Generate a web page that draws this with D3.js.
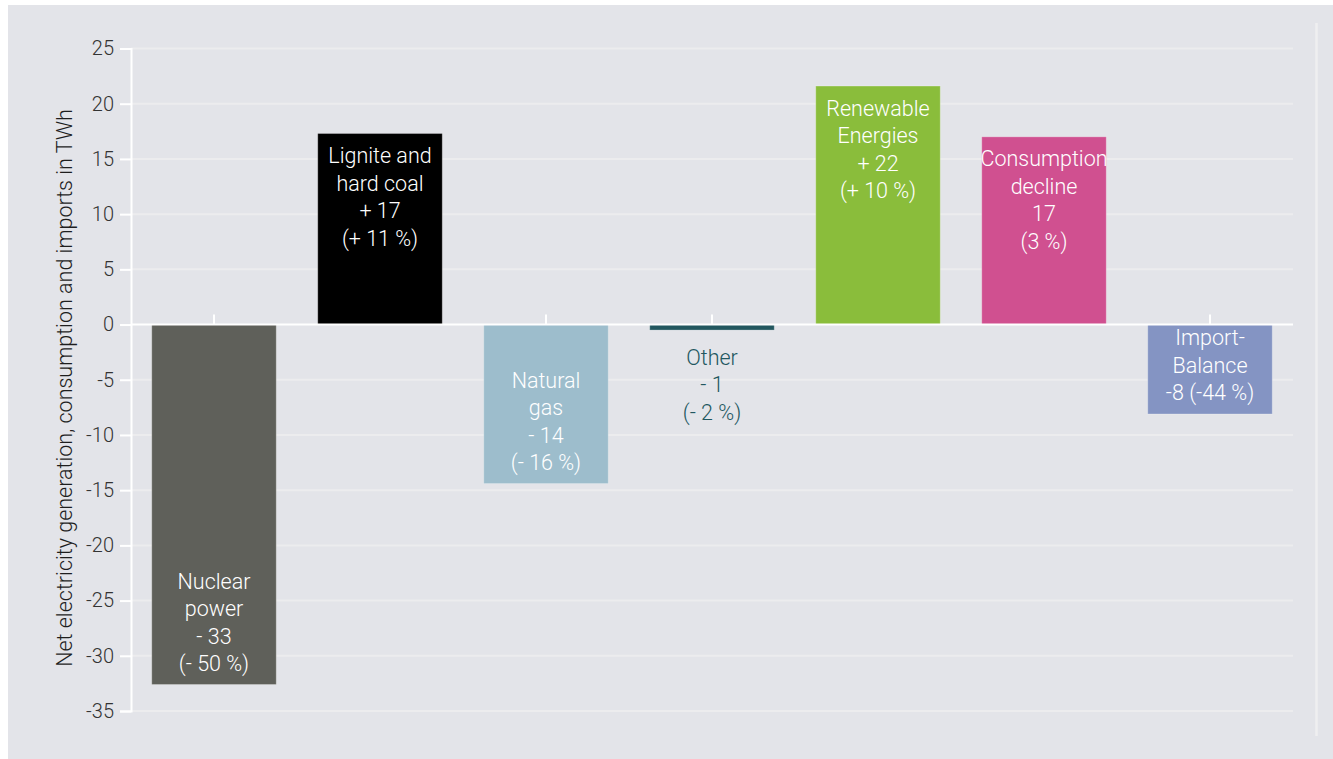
<!DOCTYPE html>
<html>
<head>
<meta charset="utf-8">
<script src="https://cdn.jsdelivr.net/npm/d3@7/dist/d3.min.js"></script>
<style>
  html, body { margin: 0; padding: 0; background: #ffffff; }
  svg { display: block; }
  text { font-family: Roboto, "Noto Sans", "DejaVu Sans", sans-serif; }
</style>
</head>
<body>
<svg id="chart" width="1333" height="759"></svg>
<script>
// Change in net electricity generation, consumption and imports (TWh)
const categories = [
  "Nuclear power", "Lignite and hard coal", "Natural gas", "Other",
  "Renewable Energies", "Consumption decline", "Import-Balance"
];
const values = [-32.6, 17.3, -14.4, -0.5, 21.6, 17.0, -8.1];
const percents = [-50, 11, -16, -2, 10, 3, -44];
const nameLines = [
  ["Nuclear", "power"],
  ["Lignite and", "hard coal"],
  ["Natural", "gas"],
  ["Other"],
  ["Renewable", "Energies"],
  ["Consumption", "decline"],
  ["Import-", "Balance"]
];
// how each bar writes its change: "signed" -> "+ 17", "plain" -> "17", "compact" -> "-8 (-44 %)"
const valueStyles = ["signed", "signed", "signed", "signed", "signed", "plain", "compact"];
const colors = ["#5f605a", "#000000", "#9dbdcc", "#22575f", "#8abd3b", "#d05090", "#8494c3"];
const textColors = ["#ffffff", "#ffffff", "#ffffff", "#22575f", "#ffffff", "#ffffff", "#ffffff"];
const yTicks = [25, 20, 15, 10, 5, 0, -5, -10, -15, -20, -25, -30, -35];
const yTitle = "Net electricity generation, consumption and imports in TWh";

function labelFor(i) {
  const v = values[i], p = percents[i];
  const n = Math.round(Math.abs(v)), pn = Math.abs(p);
  const s = v < 0 ? "-" : "+";
  if (valueStyles[i] === "plain") return [...nameLines[i], `${n}`, `(${pn} %)`];
  if (valueStyles[i] === "compact") return [...nameLines[i], `${s}${n} (${s}${pn} %)`];
  return [...nameLines[i], `${s} ${n}`, `(${s} ${pn} %)`];
}

const svg = d3.select("#chart");
const W = 1333, H = 759;

// panel background
svg.append("rect").attr("x", 8).attr("y", 5).attr("width", W - 8).attr("height", H - 5)
  .attr("fill", "#e3e4e9");

const plotL = 131, plotR = 1293, plotT = 48.5, plotB = 711;

const x = d3.scaleBand().domain(categories).range([plotL, plotR])
  .paddingInner(0.25).paddingOuter(0.125);
const y = d3.scaleLinear().domain([-35, 25]).range([plotB, plotT]);

// horizontal grid
svg.append("g").selectAll("line").data(yTicks.filter(t => t !== 0)).join("line")
  .attr("x1", plotL).attr("x2", plotR)
  .attr("y1", d => y(d)).attr("y2", d => y(d))
  .attr("stroke", "#ececee").attr("stroke-width", 2);

// right frame line
svg.append("line").attr("x1", 1316.5).attr("x2", 1316.5).attr("y1", 23).attr("y2", 736)
  .attr("stroke", "#efeff0").attr("stroke-width", 2.5);

// y axis (plain hyphen for negatives)
const yAxis = d3.axisLeft(y).tickValues(yTicks).tickSize(11).tickPadding(6)
  .tickFormat(d => String(d));
const ga = svg.append("g").attr("transform", `translate(${plotL},0)`).call(yAxis);
ga.select(".domain").attr("stroke", "#ffffff").attr("stroke-width", 2);
ga.selectAll(".tick line").attr("stroke", "#ffffff").attr("stroke-width", 2);
ga.selectAll(".tick text").attr("fill", "#333333").attr("font-size", 20)
  .style("font-family", "Roboto, sans-serif").attr("font-weight", 300);

// axis title
svg.append("text")
  .attr("transform", `translate(64,388) rotate(-90)`)
  .attr("text-anchor", "middle").attr("dominant-baseline", "central")
  .attr("font-size", 21.5).attr("font-weight", 300).attr("fill", "#1e1e1e")
  .text(yTitle);

// category ticks on the zero line (hidden behind positive bars)
svg.append("g").selectAll("line").data(categories).join("line")
  .attr("x1", d => x(d) + x.bandwidth() / 2).attr("x2", d => x(d) + x.bandwidth() / 2)
  .attr("y1", y(0) - 10).attr("y2", y(0))
  .attr("stroke", "#ffffff").attr("stroke-width", 2);

// bars
svg.append("g").selectAll("rect").data(categories).join("rect")
  .attr("x", d => x(d))
  .attr("width", x.bandwidth())
  .attr("y", (d, i) => y(Math.max(0, values[i])))
  .attr("height", (d, i) => Math.abs(y(values[i]) - y(0)))
  .attr("fill", (d, i) => colors[i])
  .attr("stroke", "rgba(255,255,255,0.25)").attr("stroke-width", 1);

// zero line
svg.append("line").attr("x1", plotL).attr("x2", plotR)
  .attr("y1", y(0)).attr("y2", y(0))
  .attr("stroke", "#ffffff").attr("stroke-width", 2);

// bar labels
const lineH = 27.5;
categories.forEach((c, i) => {
  const lines = labelFor(i);
  const cx = x(c) + x.bandwidth() / 2;
  const v = values[i];
  const barPx = Math.abs(y(v) - y(0));
  let firstY;
  if (barPx < lines.length * lineH) {
    // too thin: label sits beneath the bar
    firstY = y(Math.min(0, v)) + 27;
  } else if (v >= 0) {
    firstY = y(v) + 22;
  } else {
    firstY = y(v) - 21 - (lines.length - 1) * lineH;
  }
  const t = svg.append("text").attr("text-anchor", "middle")
    .attr("font-size", 21.5).attr("font-weight", 300).attr("fill", textColors[i]);
  lines.forEach((ln, k) => {
    t.append("tspan").attr("x", cx).attr("y", firstY + k * lineH)
      .attr("dominant-baseline", "central").text(ln);
  });
});
</script>
</body>
</html>
